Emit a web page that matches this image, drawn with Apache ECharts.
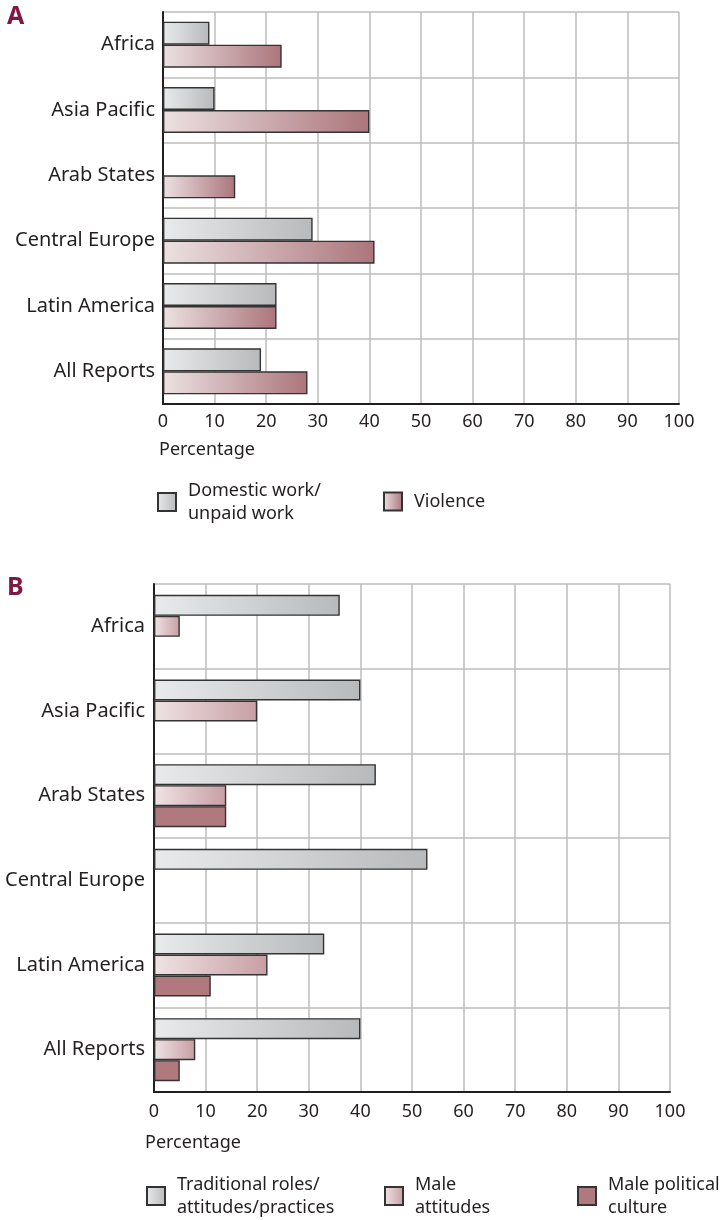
<!DOCTYPE html>
<html>
<head>
<meta charset="utf-8">
<script src="https://cdn.jsdelivr.net/npm/echarts@6/dist/echarts.min.js"></script>
<style>
html,body{margin:0;padding:0;background:#fff;}
#chart{width:722px;height:1220px;}
</style>
</head>
<body>
<div id="chart"></div>
<script>
const categories = ['Africa', 'Asia Pacific', 'Arab States', 'Central Europe', 'Latin America', 'All Reports'];
const xTicks = [0, 10, 20, 30, 40, 50, 60, 70, 80, 90, 100];

// Panel A
const domesticWork = [9, 10, null, 29, 22, 19];
const violence = [23, 40, 14, 41, 22, 28];

// Panel B
const traditionalRoles = [36, 40, 43, 53, 33, 40];
const maleAttitudes = [5, 20, 14, null, 22, 8];
const malePoliticalCulture = [null, null, 14, null, 11, 5];

const seriesNames = {
  domestic: 'Domestic work/\nunpaid work',
  violence: 'Violence',
  traditional: 'Traditional roles/\nattitudes/practices',
  maleAtt: 'Male\nattitudes',
  malePol: 'Male political\nculture'
};

const FONT = 'Noto Sans';
const TXT = '#231f20';

function grad(c0, c1) {
  return new echarts.graphic.LinearGradient(0, 0, 1, 0, [
    { offset: 0, color: c0 }, { offset: 1, color: c1 }
  ]);
}
const greyGrad = () => grad('#e9eaeb', '#b8b9bb');
const violenceGrad = () => grad('#ece1e2', '#ab757b');
const maleAttGrad = () => grad('#efe3e4', '#c79ea3');
const polColor = '#b0797e';
const borderStyle = { borderColor: '#333', borderWidth: 1.4 };

function xAxisCfg(gridIndex, margin) {
  return {
    type: 'value', gridIndex, min: 0, max: 100, interval: 10,
    axisLine: { show: true, onZero: false, lineStyle: { color: '#231f20', width: 2 } },
    axisTick: { show: false },
    axisLabel: { color: TXT, fontFamily: FONT, fontSize: 18, margin,
      formatter: v => xTicks.includes(v) ? String(v) : '' },
    splitLine: { show: true, lineStyle: { color: '#bdbdbd', width: 1.5 } }
  };
}
function yAxisCfg(gridIndex, margin) {
  return {
    type: 'category', gridIndex, data: categories, inverse: true,
    axisLine: { show: true, lineStyle: { color: '#231f20', width: 2 } },
    axisTick: { show: false },
    axisLabel: { color: TXT, fontFamily: FONT, fontSize: 20, margin },
    splitLine: { show: true, interval: 0, lineStyle: { color: '#bdbdbd', width: 1.5 } }
  };
}
function legendItem(name, left, top) {
  return {
    data: [name], left, top, padding: 0, orient: 'horizontal',
    itemWidth: 18, itemHeight: 18, itemGap: 10, selectedMode: false,
    icon: 'rect',
    textStyle: { color: TXT, fontFamily: FONT, fontSize: 18, lineHeight: 23, padding: [0, 0, 0, 7] }
  };
}

const option = {
  animation: false,
  backgroundColor: '#fff',
  title: [
    { text: 'A', left: 7, top: 4, padding: 0, textStyle: { color: '#7d1a43', fontFamily: FONT, fontWeight: 'bold', fontSize: 25 } },
    { text: 'B', left: 7, top: 575, padding: 0, textStyle: { color: '#7d1a43', fontFamily: FONT, fontWeight: 'bold', fontSize: 25 } },
    { text: 'Percentage', left: 159, top: 441, padding: 0, textStyle: { color: TXT, fontFamily: FONT, fontWeight: 'normal', fontSize: 18 } },
    { text: 'Percentage', left: 145, top: 1134, padding: 0, textStyle: { color: TXT, fontFamily: FONT, fontWeight: 'normal', fontSize: 18 } }
  ],
  grid: [
    { left: 163, right: 43, top: 12, height: 392 },
    { left: 154, right: 52, top: 584, height: 508 }
  ],
  xAxis: [xAxisCfg(0, 9), xAxisCfg(1, 11)],
  yAxis: [yAxisCfg(0, 8), yAxisCfg(1, 9)],
  legend: [
    legendItem(seriesNames.domestic, 157, 479),
    legendItem(seriesNames.violence, 383, 490),
    legendItem(seriesNames.traditional, 146, 1173),
    legendItem(seriesNames.maleAtt, 384, 1173),
    legendItem(seriesNames.malePol, 577, 1173)
  ],
  series: [
    { name: seriesNames.domestic, type: 'bar', xAxisIndex: 0, yAxisIndex: 0, data: domesticWork,
      barWidth: 23, barGap: '0%', itemStyle: Object.assign({ color: greyGrad() }, borderStyle) },
    { name: seriesNames.violence, type: 'bar', xAxisIndex: 0, yAxisIndex: 0, data: violence,
      barWidth: 23, barGap: '0%', itemStyle: Object.assign({ color: violenceGrad() }, borderStyle) },
    { name: seriesNames.traditional, type: 'bar', xAxisIndex: 1, yAxisIndex: 1, data: traditionalRoles,
      barWidth: 21, barGap: '0%', itemStyle: Object.assign({ color: greyGrad() }, borderStyle) },
    { name: seriesNames.maleAtt, type: 'bar', xAxisIndex: 1, yAxisIndex: 1, data: maleAttitudes,
      barWidth: 21, barGap: '0%', itemStyle: Object.assign({ color: maleAttGrad() }, borderStyle) },
    { name: seriesNames.malePol, type: 'bar', xAxisIndex: 1, yAxisIndex: 1, data: malePoliticalCulture,
      barWidth: 21, barGap: '0%', itemStyle: Object.assign({ color: polColor }, borderStyle) }
  ]
};

const chart = echarts.init(document.getElementById('chart'), null, { renderer: 'canvas' });
chart.setOption(option);
</script>
</body>
</html>
